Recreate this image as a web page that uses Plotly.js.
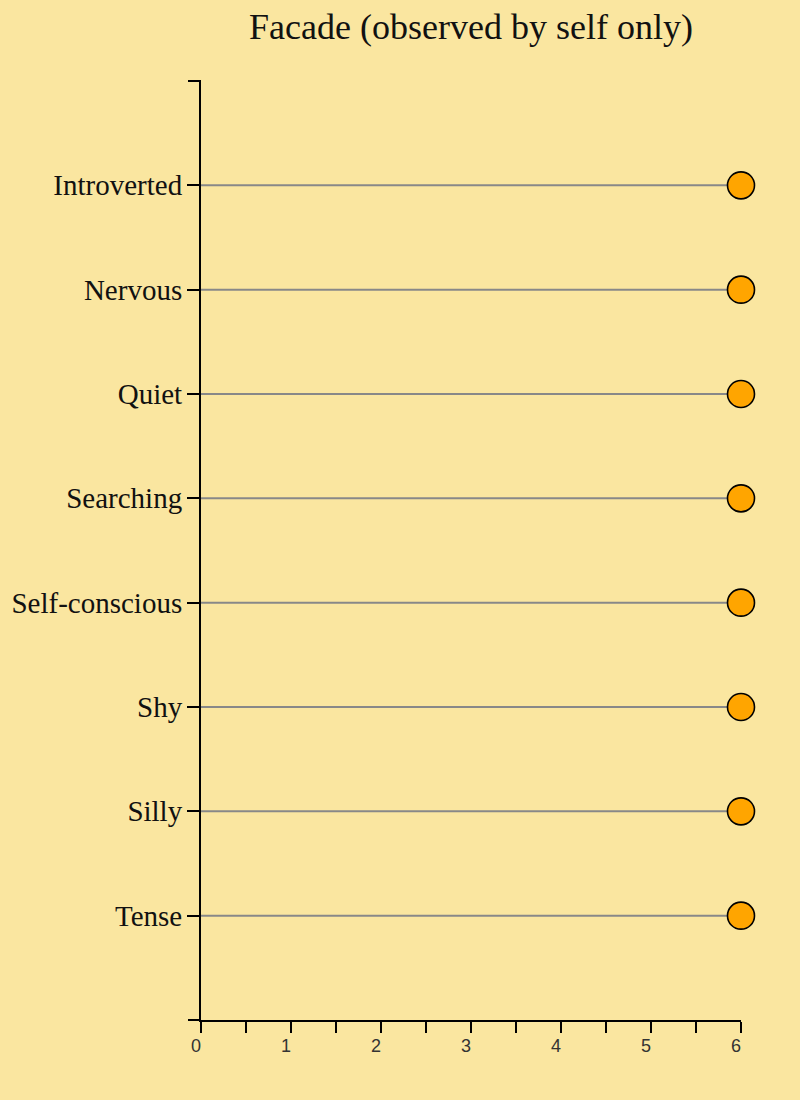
<!DOCTYPE html>
<html>
<head>
<meta charset="utf-8">
<script src="https://cdn.plot.ly/plotly-3.0.1.min.js"></script>
<style>
html,body{margin:0;padding:0;background:#FAE6A0;}
#chart{width:800px;height:1100px;}
</style>
</head>
<body>
<div id="chart"></div>
<script>
const categories = ["Introverted", "Nervous", "Quiet", "Searching", "Self-conscious", "Shy", "Silly", "Tense"];
const values = [6, 6, 6, 6, 6, 6, 6, 6];
const xTickVals = [0, 0.5, 1, 1.5, 2, 2.5, 3, 3.5, 4, 4.5, 5, 5.5, 6];
const xTickText = ["0", "", "1", "", "2", "", "3", "", "4", "", "5", "", "6"];
const chartTitle = "Facade (observed by self only)";

const traces = [];
categories.forEach((c, i) => {
  traces.push({
    type: "scatter", mode: "lines",
    x: [0, values[i]], y: [c, c],
    line: {color: "#888888", width: 2},
    hoverinfo: "skip", showlegend: false
  });
});
traces.push({
  type: "scatter", mode: "markers",
  x: values, y: categories,
  cliponaxis: false,
  marker: {size: 27, color: "#FFA500", line: {color: "#000000", width: 1.6}},
  showlegend: false
});

const layout = {
  width: 800, height: 1100,
  paper_bgcolor: "#FAE6A0", plot_bgcolor: "#FAE6A0",
  margin: {l: 201, r: 59, t: 81, b: 80},
  title: {text: chartTitle, x: 0.5, xref: "paper", y: 0.976, yanchor: "middle",
          font: {family: "Liberation Serif, Times New Roman, serif", size: 36, color: "#111"}},
  xaxis: {
    range: [0, 6], showgrid: false, zeroline: false,
    showline: true, linecolor: "#000", linewidth: 2,
    ticks: "outside", ticklen: 11, tickwidth: 2, tickcolor: "#000",
    tickmode: "array", tickvals: xTickVals, ticktext: xTickText,
    ticklabelshift: -5, ticklabelstandoff: -3,
    tickfont: {family: "Liberation Sans, Arial, sans-serif", size: 18, color: "#333"},
    fixedrange: true
  },
  yaxis: {
    type: "category", categoryorder: "array", categoryarray: categories,
    range: [8, -1], showgrid: false, zeroline: false,
    showline: true, linecolor: "#000", linewidth: 2,
    ticks: "outside", ticklen: 12, tickwidth: 2, tickcolor: "#000",
    tickfont: {family: "Liberation Serif, Times New Roman, serif", size: 29, color: "#111"},
    ticklabelstandoff: -1,
    fixedrange: true
  },
  shapes: [
    {type: "line", xref: "paper", yref: "paper", x0: -13/540, x1: 0, y0: 1, y1: 1, line: {color: "#000", width: 2}},
    {type: "line", xref: "paper", yref: "paper", x0: -13/540, x1: 0, y0: 0, y1: 0, line: {color: "#000", width: 2}}
  ]
};

Plotly.newPlot("chart", traces, layout, {displayModeBar: false, staticPlot: true});
</script>
</body>
</html>
